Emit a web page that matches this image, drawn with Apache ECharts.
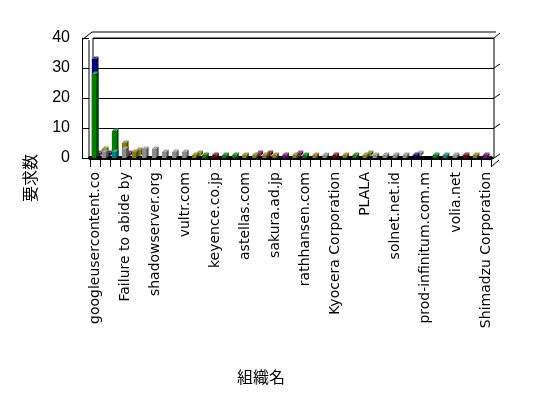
<!DOCTYPE html>
<html>
<head>
<meta charset="utf-8">
<script src="https://cdn.jsdelivr.net/npm/echarts@6/dist/echarts.min.js"></script>
<style>
  html, body { margin: 0; padding: 0; background: #fff; }
  #chart { width: 548px; height: 398px; }
</style>
</head>
<body>
<div id="chart"></div>
<script>
// Organisation names (only every third one is printed on the axis)
const categories = [
  'googleusercontent.co', '', '', 'Failure to abide by', '', '', 'shadowserver.org', '', '',
  'vultr.com', '', '', 'keyence.co.jp', '', '', 'astellas.com', '', '', 'sakura.ad.jp', '', '',
  'rathhansen.com', '', '', 'Kyocera Corporation', '', '', 'PLALA', '', '', 'solnet.net.id', '', '',
  'prod-infinitum.com.m', '', '', 'volia.net', '', '', 'Shimadzu Corporation'
];

const yTicks = [0, 10, 20, 30, 40];

// Request counts per series (null = no request)
//                    0     1     2     3     4     5     6     7     8     9    10    11    12    13    14    15    16    17    18    19    20    21    22    23    24    25    26    27    28    29    30    31    32    33    34    35    36    37    38    39
const navyBack   = [  33, null, null, null, null, null, null, null, null, null, null, null, null, null, null, null, null, null, null, null, null, null, null, null, null, null, null, null, null, null, null, null, null, null, null, null, null, null, null, null];
const oliveBack  = [null,    3, null,    5, null, null, null, null, null, null, null, null, null, null, null, null, null, null, null, null, null, null, null, null, null, null, null, null, null, null, null, null, null, null, null, null, null, null, null, null];
const greenBack  = [null, null,    9, null, null, null, null, null, null, null, null, null, null, null, null, null, null, null, null, null, null, null, null, null, null, null, null, null, null, null, null, null, null, null, null, null, null, null, null, null];
const greenVals  = [  28, null, null, null, null, null, null, null, null, null, null,    1, null,    1,    1, null, null, null, null, null, null,    1, null, null, null, null,    1, null, null, null, null, null, null, null,    1, null, null, null, null, null];
const grayVals   = [null,    2, null,    3, null,    3,    3,    2,    2,    2, null, null, null, null, null, null, null, null, null, null, null, null, null,    1, null, null, null, null,    1,    1,    1,    1, null, null, null, null,    1, null, null, null];
const tealVals   = [null, null,    2, null, null, null, null, null, null, null, null, null, null, null, null, null, null, null, null, null, null, null, null, null, null, null, null, null, null, null, null, null, null, null, null,    1, null, null, null, null];
const oliveVals  = [null, null, null, null,    2, null, null, null, null, null,    1, null, null, null, null,    1,    1,    1,    1, null,    1, null,    1, null, null,    1, null,    1, null, null, null, null, null, null, null, null, null, null,    1, null];
const maroonVals = [null, null, null, null, null, null, null, null, null, null, null, null,    1, null, null, null, null, null, null, null, null, null, null, null,    1, null, null, null, null, null, null, null, null, null, null, null, null,    1, null, null];
const purpleVals = [null, null, null, null, null, null, null, null, null, null, null, null, null, null, null, null, null, null, null,    1, null, null, null, null, null, null, null, null, null, null, null, null, null, null, null, null, null, null, null,    1];
const navyVals   = [null, null, null, null, null, null, null, null, null, null, null, null, null, null, null, null, null, null, null, null, null, null, null, null, null, null, null, null, null, null, null, null,    1, null, null, null, null, null, null, null];
// second row (drawn slightly behind and to the right)
const purpleRear = [   1, null, null,    1, null, null, null, null, null, null, null, null, null, null, null, null,    1, null, null, null,    1, null, null, null, null, null, null, null, null, null, null, null, null, null, null, null, null, null, null, null];
const navyRear   = [null,    1, null, null, null, null, null, null, null, null, null, null, null, null, null, null, null, null, null, null, null, null, null, null, null, null, null, null, null, null, null, null, null, null, null, null, null, null, null, null];
const oliveRear  = [null, null, null, null,    2, null, null, null, null, null,    1, null, null, null, null, null, null, null, null, null, null, null, null, null, null, null, null,    1, null, null, null, null, null, null, null, null, null, null, null, null];
const maroonRear = [null, null, null, null, null, null, null, null, null, null, null, null, null, null, null, null, null,    1, null, null, null, null, null, null, null, null, null, null, null, null, null, null, null, null, null, null, null, null, null, null];
const grayRear   = [null, null, null, null, null, null, null, null, null, null, null, null, null, null, null, null, null, null, null, null, null, null, null, null, null, null, null, null, null, null, null, null,    1, null, null, null, null, null, null, null];

const COLORS = {
  green: '#008000', navy: '#000080', olive: '#808000', gray: '#8c8c8c',
  teal: '#008080', maroon: '#800000', purple: '#800080'
};

// plot frame
const PLOT = { left: 90, right: 491, top: 38, bottom: 158 };
const WALL = { left: 93, right: 494 };
const DEPTH = { dx: 6, dy: 5 };

function shade(hex, amt) {
  const n = parseInt(hex.slice(1), 16);
  let r = (n >> 16) & 255, g = (n >> 8) & 255, b = n & 255;
  const t = amt < 0 ? 0 : 255, p = Math.abs(amt);
  r = Math.round(r + (t - r) * p); g = Math.round(g + (t - g) * p); b = Math.round(b + (t - b) * p);
  return 'rgb(' + r + ',' + g + ',' + b + ')';
}

// a small 3-D column: front face, lighter top, darker side
function prism(row) {
  return function (params, api) {
    const v = api.value(1);
    if (v == null || isNaN(v)) return;
    const idx = api.value(0);
    const base = api.coord([idx, 0]);
    const top = api.coord([idx, v]);
    const slot = api.size([1, 0])[0];
    const w = slot * 0.42;
    const x0 = base[0] - slot * 0.32 + row * slot * 0.42;
    const lift = row * 2;
    const y0 = base[1] - lift, y1 = top[1] - lift;
    const dx = 2.5, dy = 2.5;
    const c = api.visual('color');
    return {
      type: 'group',
      children: [
        { type: 'polygon', shape: { points: [[x0 + w, y1], [x0 + w + dx, y1 - dy], [x0 + w + dx, y0 - dy], [x0 + w, y0]] },
          style: { fill: shade(c, -0.4) } },
        { type: 'polygon', shape: { points: [[x0, y1], [x0 + w, y1], [x0 + w + dx, y1 - dy], [x0 + dx, y1 - dy]] },
          style: { fill: shade(c, 0.25) } },
        { type: 'rect', shape: { x: x0, y: y1, width: w, height: y0 - y1 }, style: { fill: c } }
      ]
    };
  };
}

function toPairs(arr) {
  const out = [];
  arr.forEach(function (v, i) { if (v != null) out.push([i, v]); });
  return out;
}

function barSeries(name, arr, color, row) {
  return {
    name: name, type: 'custom', xAxisIndex: 0, yAxisIndex: 0,
    renderItem: prism(row), itemStyle: { color: color },
    encode: { x: 0, y: 1 }, data: toPairs(arr), silent: true
  };
}

const seriesList = [
  barSeries('purpleRear', purpleRear, COLORS.purple, 1),
  barSeries('navyRear', navyRear, COLORS.navy, 1),
  barSeries('oliveRear', oliveRear, COLORS.olive, 1),
  barSeries('maroonRear', maroonRear, COLORS.maroon, 1),
  barSeries('grayRear', grayRear, COLORS.gray, 1),
  barSeries('navyBack', navyBack, COLORS.navy, 0),
  barSeries('oliveBack', oliveBack, COLORS.olive, 0),
  barSeries('greenBack', greenBack, COLORS.green, 0),
  barSeries('green', greenVals, COLORS.green, 0),
  barSeries('gray', grayVals, COLORS.gray, 0),
  barSeries('teal', tealVals, COLORS.teal, 0),
  barSeries('olive', oliveVals, COLORS.olive, 0),
  barSeries('maroon', maroonVals, COLORS.maroon, 0),
  barSeries('purple', purpleVals, COLORS.purple, 0),
  barSeries('navy', navyVals, COLORS.navy, 0)
];

const W = 548, H = 398;
const line = function (x1, y1, x2, y2, w) {
  return { type: 'line', silent: true, z: 1,
    shape: { x1: x1, y1: y1, x2: x2, y2: y2 }, style: { stroke: '#000', lineWidth: w || 1 } };
};

const chart = echarts.init(document.getElementById('chart'), null, { renderer: 'canvas' });

// wall decorations: top edge, left wall edges, side stubs
const wallY = yTicks.map(function (t) { return PLOT.bottom - (PLOT.bottom - PLOT.top) * t / 40; });
const frame = [
  line(82, PLOT.top + 2, 82 + 10, PLOT.top - DEPTH.dy - 1),
  line(92, PLOT.top - DEPTH.dy - 1, WALL.right + 2, PLOT.top - DEPTH.dy - 1),
  line(89, PLOT.top + 2, 89, PLOT.bottom),
  line(WALL.right, PLOT.top, WALL.right + DEPTH.dx, PLOT.top - DEPTH.dy)
];
wallY.slice(0, 4).forEach(function (y) {
  frame.push(line(WALL.right, y, WALL.right + DEPTH.dx, y - 4));
});
frame.push(line(PLOT.right, PLOT.bottom + 9, PLOT.right + 8, PLOT.bottom + 2));

chart.setOption({
  animation: false,
  backgroundColor: '#fff',
  grid: [
    { left: PLOT.left, right: W - PLOT.right, top: PLOT.top, bottom: H - PLOT.bottom, outerBoundsMode: 'none' },
    { left: WALL.left, right: W - WALL.right, top: PLOT.top, bottom: H - PLOT.bottom, outerBoundsMode: 'none',
      show: true, borderColor: '#000', borderWidth: 1, backgroundColor: 'transparent' }
  ],
  xAxis: [
    {
      type: 'category', gridIndex: 0, data: categories, boundaryGap: true,
      axisLine: { show: true, lineStyle: { color: '#000', width: 4 } },
      axisTick: { show: true, interval: 0, length: 9, lineStyle: { color: '#000', width: 1 } },
      axisLabel: {
        interval: 2, rotate: 90, margin: 14, color: '#000',
        fontFamily: 'DejaVu Sans', fontSize: 14
      },
      splitLine: { show: false }
    },
    { type: 'value', gridIndex: 1, show: false, min: 0, max: 1 }
  ],
  yAxis: [
    {
      type: 'value', gridIndex: 0, min: yTicks[0], max: yTicks[yTicks.length - 1], interval: 10,
      offset: 8,
      axisLine: { show: true, lineStyle: { color: '#000', width: 1 } },
      axisTick: { show: true, inside: true, length: 7, lineStyle: { color: '#000' } },
      axisLabel: { margin: 12, color: '#000', fontFamily: 'Liberation Sans', fontSize: 16 },
      splitLine: { show: false }
    },
    {
      type: 'value', gridIndex: 1, min: yTicks[0], max: yTicks[yTicks.length - 1], interval: 10,
      axisLine: { show: false }, axisTick: { show: false }, axisLabel: { show: false },
      splitLine: { show: true, lineStyle: { color: '#000', width: 1 } }
    }
  ],
  graphic: frame.concat([
    {
      type: 'text', silent: true, x: 30, y: 178, rotation: Math.PI / 2,
      style: { text: '要求数', font: '16px "Noto Sans CJK JP"', fill: '#000', textAlign: 'center', textVerticalAlign: 'middle' }
    },
    {
      type: 'text', silent: true, x: 261, y: 377,
      style: { text: '組織名', font: '16px "Noto Sans CJK JP"', fill: '#000', textAlign: 'center', textVerticalAlign: 'middle' }
    }
  ]),
  series: seriesList
});
</script>
</body>
</html>
